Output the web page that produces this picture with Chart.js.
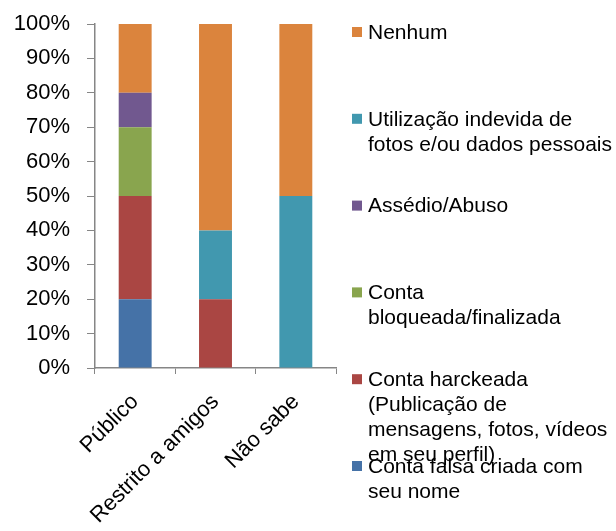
<!DOCTYPE html>
<html>
<head>
<meta charset="utf-8">
<script src="https://cdn.jsdelivr.net/npm/chart.js@4.4.1/dist/chart.umd.min.js"></script>
<style>
  html, body { margin: 0; padding: 0; background: #fff; }
  #wrap { position: relative; width: 616px; height: 531px; }
</style>
</head>
<body>
<div id="wrap"><canvas id="chart"></canvas></div>
<script>
// Categories and stacked shares (percent), bottom of stack first
const categories = ["Público", "Restrito a amigos", "Não sabe"];
const contaFalsa = [20, 0, 0];
const contaHackeada = [30, 20, 0];
const contaBloqueada = [20, 0, 0];
const assedio = [10, 0, 0];
const utilizacaoIndevida = [0, 20, 50];
const nenhum = [20, 60, 50];

// Legend text, one entry per series, top to bottom as in the picture
const legendLines = [
  ["Nenhum"],
  ["Utilização indevida de", "fotos e/ou dados pessoais"],
  ["Assédio/Abuso"],
  ["Conta", "bloqueada/finalizada"],
  ["Conta harckeada", "(Publicação de", "mensagens, fotos, vídeos", "em seu perfil)"],
  ["Conta falsa criada com", "seu nome"]
];

const FONT = "'Liberation Sans', Arial, sans-serif";

const series = [
  { label: "Conta falsa criada com seu nome", data: contaFalsa, color: "#4572A7" },
  { label: "Conta harckeada", data: contaHackeada, color: "#AA4643" },
  { label: "Conta bloqueada/finalizada", data: contaBloqueada, color: "#89A54E" },
  { label: "Assédio/Abuso", data: assedio, color: "#71588F" },
  { label: "Utilização indevida de fotos e/ou dados pessoais", data: utilizacaoIndevida, color: "#4198AF" },
  { label: "Nenhum", data: nenhum, color: "#DB843D" }
];

// Legend drawn beside the plot, entries spread down the right column
const sideLegend = {
  id: "sideLegend",
  afterDraw(chart) {
    const ctx = chart.ctx;
    const area = chart.chartArea;
    const x = area.right + 16;
    const step = 86.8;
    const top = 32;
    ctx.save();
    ctx.font = "21px " + FONT;
    ctx.textBaseline = "middle";
    const ordered = series.slice().reverse();
    ordered.forEach((s, i) => {
      const cy = top + i * step;
      ctx.fillStyle = s.color;
      ctx.fillRect(x, cy - 5, 10, 10);
      ctx.fillStyle = "#000";
      legendLines[i].forEach((line, j) => {
        ctx.fillText(line, x + 16, cy + 1 + j * 25);
      });
    });
    ctx.restore();
  }
};

new Chart(document.getElementById("chart"), {
  type: "bar",
  data: {
    labels: categories,
    datasets: series.map(s => ({
      label: s.label,
      data: s.data,
      backgroundColor: s.color,
      borderWidth: 0,
      barPercentage: 0.41,
      categoryPercentage: 1
    }))
  },
  options: {
    responsive: true,
    maintainAspectRatio: false,
    animation: false,
    layout: { padding: { top: 24, right: 280, left: 0, bottom: 0 } },
    plugins: {
      legend: { display: false },
      tooltip: { enabled: false }
    },
    scales: {
      x: {
        stacked: true,
        grid: { drawOnChartArea: false, color: "#868686", tickLength: 6, offset: true },
        border: { color: "#868686", width: 1.5 },
        ticks: {
          color: "#000",
          font: { family: FONT, size: 22 },
          minRotation: 45,
          maxRotation: 45,
          padding: 15
        },
        afterFit(scale) {
          scale.height = 163;
          scale.paddingLeft = 0;
          scale.paddingRight = 0;
        }
      },
      y: {
        stacked: true,
        min: 0,
        max: 100,
        grid: { drawOnChartArea: false, color: "#868686", tickLength: 8 },
        border: { color: "#868686", width: 1.5 },
        ticks: {
          stepSize: 10,
          color: "#000",
          padding: 17,
          font: { family: FONT, size: 22 },
          callback: v => v + "%"
        },
        afterFit(scale) {
          scale.width = 95;
          scale.paddingTop = 0;
          scale.paddingBottom = 0;
        }
      }
    }
  },
  plugins: [sideLegend]
});
</script>
</body>
</html>
